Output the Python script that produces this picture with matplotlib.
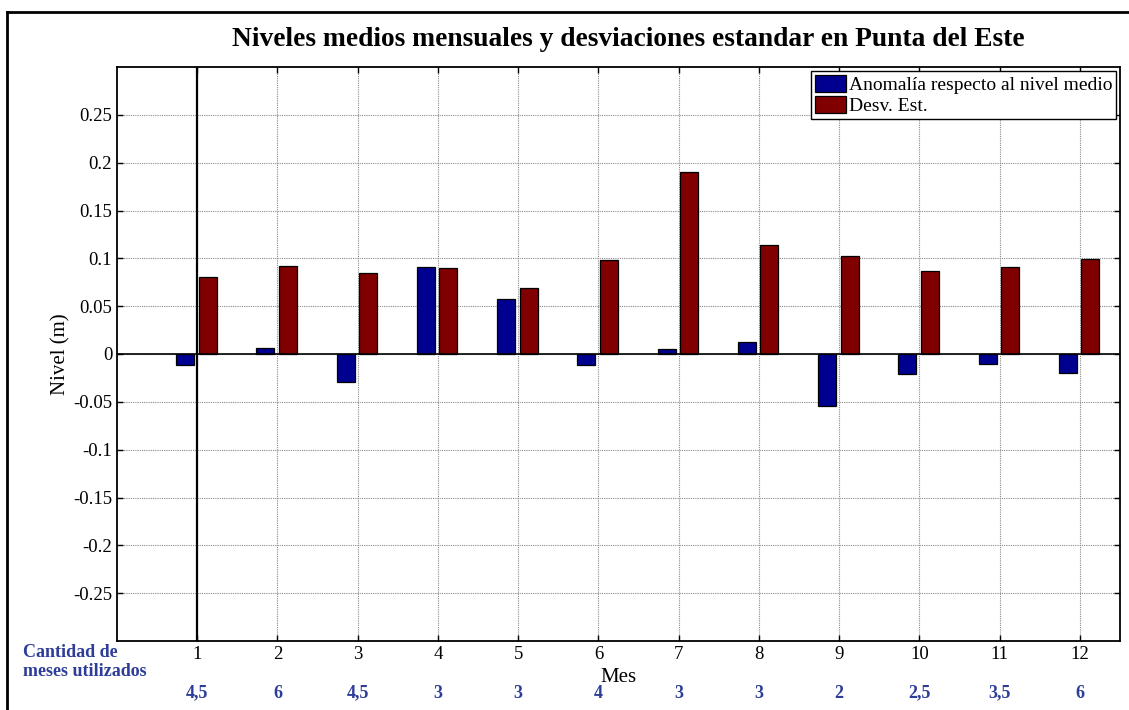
import numpy as np
import matplotlib
matplotlib.use("Agg")
import matplotlib.pyplot as plt
from matplotlib.lines import Line2D
from matplotlib.ticker import FuncFormatter

plt.rcParams['font.family'] = ['Liberation Serif', 'DejaVu Serif']

# datos
meses = [1, 2, 3, 4, 5, 6, 7, 8, 9, 10, 11, 12]
anomalia = [-0.012, 0.006, -0.029, 0.091, 0.058, -0.011, 0.005, 0.013, -0.054, -0.021, -0.010, -0.020]
desv_est = [0.080, 0.092, 0.085, 0.090, 0.069, 0.098, 0.190, 0.114, 0.102, 0.087, 0.091, 0.099]
cant_meses = ['4,5', '6', '4,5', '3', '3', '4', '3', '3', '2', '2,5', '3,5', '6']

W, H = 1129, 710
fig = plt.figure(figsize=(W / 100, H / 100), dpi=100)
ax = fig.add_axes([117 / W, 1 - 641 / H, (1120 - 117) / W, (641 - 67) / H])

x = np.array(meses)
ancho = 0.225
ax.bar(x - 0.15, anomalia, ancho, color='#000090', edgecolor='black', linewidth=0.9,
       label='Anomalía respecto al nivel medio', zorder=3)
ax.bar(x + 0.13, desv_est, ancho, color='#800000', edgecolor='black', linewidth=0.9,
       label='Desv. Est.', zorder=3)

ax.axhline(0, color='black', linewidth=1.2, zorder=4)
ax.axvline(1, color='black', linewidth=1.6, zorder=2)

ax.set_xlim(0, 12.5)
ax.set_ylim(-0.3, 0.3)
ax.set_xticks(meses)
ax.set_yticks(np.round(np.arange(-0.25, 0.26, 0.05), 2))


def fmt(v, pos):
    v = round(v, 2)
    if v == 0:
        return '0'
    return '%g' % v


ax.yaxis.set_major_formatter(FuncFormatter(fmt))
ax.tick_params(direction='in', top=True, right=True, labelsize=13.5, length=4, width=1)
ax.grid(True, linestyle=(0, (1, 1)), color='#8a8a8a', linewidth=0.8, zorder=0)
for s in ax.spines.values():
    s.set_linewidth(1.3)

ax.set_xlabel('Mes', fontsize=15, labelpad=4)
ax.set_ylabel('Nivel (m)', fontsize=15, labelpad=2)

ax.legend(loc='upper right', bbox_to_anchor=((1116 - 117) / 1003, 1 - 4 / 574),
          borderaxespad=0, fontsize=14, fancybox=False, edgecolor='black', framealpha=1,
          handlelength=1.6, handleheight=0.95, handletextpad=0.12, borderpad=0.2,
          labelspacing=0.12)

fig.text(628 / W, 1 - 39 / H, 'Niveles medios mensuales y desviaciones estandar en Punta del Este',
         ha='center', va='center', fontsize=19.8, fontweight='bold')

azul = '#2E3D98'
fig.text(23 / W, 1 - 662 / H, 'Cantidad de\nmeses utilizados', ha='left', va='center',
         fontsize=13, fontweight='bold', color=azul, linespacing=1.1)
trans = ax.get_xaxis_transform()
for m, c in zip(meses, cant_meses):
    ax.text(m, -(693 - 641) / 574, c, transform=trans, ha='center', va='center',
            fontsize=13, fontweight='bold', color=azul, clip_on=False)

# marco exterior
fig.add_artist(Line2D([7 / W, 7 / W], [0, 1 - 12 / H], color='black', linewidth=2))
fig.add_artist(Line2D([7 / W, 1], [1 - 12 / H, 1 - 12 / H], color='black', linewidth=2))

fig.savefig('out.png', dpi=100)
